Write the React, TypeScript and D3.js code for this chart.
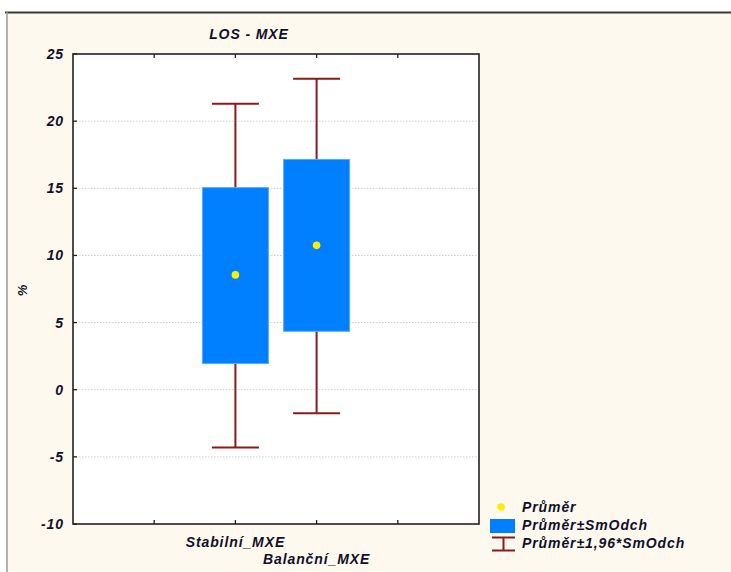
import * as d3 from 'd3';
import React, { useEffect, useRef } from 'react';

// values
const categories = ['Stabilní_MXE', 'Balanční_MXE'];
const means = [8.55, 10.75];
const sdLow = [1.95, 4.35];
const sdHigh = [15.05, 17.15];
const ciLow = [-4.3, -1.75];
const ciHigh = [21.3, 23.15];
const yTicks = [-10, -5, 0, 5, 10, 15, 20, 25];
const legendLabels = ['Průměr', 'Průměr±SmOdch', 'Průměr±1,96*SmOdch'];

const W = 731;
const H = 572;
const FONT = "Arial, 'Liberation Sans', sans-serif";
const TEXT = '#10102a';
const BOX = '#0080ff';
const WHISK = '#8b1a1a';

const App: React.FC = () => {
  const svgRef = useRef<SVGSVGElement>(null);

  useEffect(() => {
    if (!svgRef.current) return;
    const svg = d3.select(svgRef.current);
    svg.selectAll('*').remove();

    const plot = { left: 73, right: 479, top: 54, bottom: 524 };

    svg.append('rect').attr('width', W).attr('height', H).attr('fill', '#fff');
    svg.append('rect').attr('x', 7).attr('y', 12).attr('width', W - 7).attr('height', H - 12).attr('fill', '#fef9ee');
    svg.append('line').attr('x1', 5).attr('x2', W).attr('y1', 12.5).attr('y2', 12.5)
      .attr('stroke', '#3a3a3a').attr('stroke-width', 2);
    svg.append('line').attr('x1', 7).attr('x2', 7).attr('y1', 12).attr('y2', H)
      .attr('stroke', '#9a9a9a').attr('stroke-width', 1.5);

    const x = d3.scaleLinear().domain([0, 5]).range([plot.left, plot.right]);
    const y = d3.scaleLinear().domain([-10, 25]).range([plot.bottom, plot.top]);

    svg.append('rect')
      .attr('x', plot.left).attr('y', plot.top)
      .attr('width', plot.right - plot.left).attr('height', plot.bottom - plot.top)
      .attr('fill', '#fff');

    // grid
    svg.append('g').selectAll('line')
      .data(yTicks.filter(t => t > -10 && t < 25))
      .join('line')
      .attr('x1', plot.left).attr('x2', plot.right)
      .attr('y1', d => y(d)).attr('y2', d => y(d))
      .attr('stroke', '#cdcdcd').attr('stroke-width', 1)
      .attr('stroke-dasharray', '1.5,1.5');

    // frame
    svg.append('rect')
      .attr('x', plot.left).attr('y', plot.top)
      .attr('width', plot.right - plot.left).attr('height', plot.bottom - plot.top)
      .attr('fill', 'none').attr('stroke', '#222').attr('stroke-width', 1.6);

    // ticks
    const xt = [1, 2, 3, 4];
    const tg = svg.append('g').attr('stroke', '#222').attr('stroke-width', 1.3);
    tg.selectAll('.tb').data(xt).join('line').attr('class', 'tb')
      .attr('x1', d => x(d)).attr('x2', d => x(d))
      .attr('y1', plot.bottom).attr('y2', plot.bottom - 4);
    tg.selectAll('.tt').data(xt).join('line').attr('class', 'tt')
      .attr('x1', d => x(d)).attr('x2', d => x(d))
      .attr('y1', plot.top).attr('y2', plot.top + 4);
    tg.selectAll('.ty').data(yTicks).join('line').attr('class', 'ty')
      .attr('x1', plot.left).attr('x2', plot.left + 4)
      .attr('y1', d => y(d)).attr('y2', d => y(d));

    const txt = (sel: any) => sel
      .attr('font-family', FONT).attr('font-size', 14).attr('font-weight', 'bold')
      .attr('font-style', 'italic').attr('fill', TEXT).attr('letter-spacing', 0.9);

    svg.append('g').selectAll('text').data(yTicks).join('text')
      .call(txt)
      .attr('x', 64).attr('y', d => y(d) + 5)
      .attr('text-anchor', 'end')
      .text(d => String(d));

    svg.append('text').call(txt)
      .attr('x', 249).attr('y', 39).attr('text-anchor', 'middle')
      .text('LOS - MXE');

    svg.append('text').call(txt)
      .attr('transform', 'translate(27,290) rotate(-90)')
      .attr('text-anchor', 'middle').attr('font-size', 13)
      .text('%');

    // category labels, staggered
    svg.append('g').selectAll('text').data(categories).join('text')
      .call(txt)
      .attr('x', (_d, i) => x(i + 2))
      .attr('y', (_d, i) => 547 + i * 17)
      .attr('text-anchor', 'middle')
      .text(d => d);

    const boxW = 66;
    const capW = 47;
    const g = svg.append('g');
    categories.forEach((_c, i) => {
      const cx = x(i + 2);
      g.append('line').attr('x1', cx).attr('x2', cx)
        .attr('y1', y(ciHigh[i])).attr('y2', y(ciLow[i]))
        .attr('stroke', WHISK).attr('stroke-width', 2);
      [ciHigh[i], ciLow[i]].forEach(v => {
        g.append('line').attr('x1', cx - capW / 2).attr('x2', cx + capW / 2)
          .attr('y1', y(v)).attr('y2', y(v))
          .attr('stroke', WHISK).attr('stroke-width', 2);
      });
      g.append('rect')
        .attr('x', cx - boxW / 2).attr('y', y(sdHigh[i]))
        .attr('width', boxW).attr('height', y(sdLow[i]) - y(sdHigh[i]))
        .attr('fill', BOX).attr('stroke', '#5aa8ff').attr('stroke-width', 1);
      g.append('circle').attr('cx', cx).attr('cy', y(means[i])).attr('r', 3.8)
        .attr('fill', '#ffee00');
    });

    // legend
    const lg = svg.append('g');
    lg.append('circle').attr('cx', 501).attr('cy', 507).attr('r', 3.8).attr('fill', '#ffee00');
    lg.append('rect').attr('x', 490).attr('y', 519).attr('width', 25).attr('height', 14).attr('fill', BOX);
    lg.append('line').attr('x1', 492).attr('x2', 515).attr('y1', 537.5).attr('y2', 537.5).attr('stroke', WHISK).attr('stroke-width', 2);
    lg.append('line').attr('x1', 492).attr('x2', 515).attr('y1', 550.5).attr('y2', 550.5).attr('stroke', WHISK).attr('stroke-width', 2);
    lg.append('line').attr('x1', 503.5).attr('x2', 503.5).attr('y1', 537).attr('y2', 551).attr('stroke', WHISK).attr('stroke-width', 2);
    lg.selectAll('text').data(legendLabels).join('text')
      .call(txt)
      .attr('x', 522).attr('y', (_d, i) => 512 + i * 18)
      .text(d => d);
  }, []);

  return <svg ref={svgRef} width={W} height={H} style={{ display: 'block', position: 'absolute', left: 0, top: 0 }} />;
};

export default App;
